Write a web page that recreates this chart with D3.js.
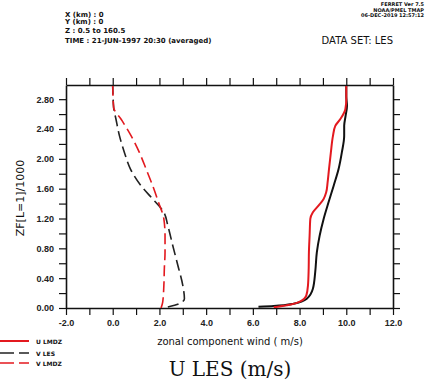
<!DOCTYPE html>
<html>
<head>
<meta charset="utf-8">
<script src="https://cdn.jsdelivr.net/npm/d3@7"></script>
<style>
  html, body { margin: 0; padding: 0; background: #fff; }
  svg { display: block; font-family: "DejaVu Sans", "Liberation Sans", sans-serif; }
  text { fill: #111; }
</style>
</head>
<body>
<svg id="chart" width="425" height="382"></svg>
<script>
// Mean profiles: height (ZF/1000) against wind component (m/s)
const uLesZ  = [0.018, 0.027, 0.058, 0.125, 0.258, 0.481, 0.749, 0.971, 1.194, 1.417, 1.640, 1.863, 2.086, 2.308, 2.442, 2.576, 2.709, 2.843, 2.977];
const uLesV  = [6.24, 6.89, 7.74, 8.31, 8.57, 8.67, 8.74, 8.86, 9.03, 9.24, 9.46, 9.67, 9.81, 9.91, 9.91, 9.97, 10.03, 10.00, 10.00];

const uLmdzZ = [0.009, 0.036, 0.089, 0.169, 0.303, 0.526, 0.749, 0.971, 1.194, 1.283, 1.373, 1.462, 1.551, 1.684, 1.863, 2.086, 2.308, 2.442, 2.531, 2.665, 2.799, 2.977];
const uLmdzV = [6.89, 7.46, 8.03, 8.29, 8.36, 8.39, 8.40, 8.43, 8.46, 8.57, 8.81, 9.03, 9.14, 9.20, 9.26, 9.34, 9.43, 9.53, 9.74, 9.96, 10.00, 10.00];

const vLesZ  = [0.013, 0.058, 0.125, 0.303, 0.570, 0.838, 1.105, 1.283, 1.462, 1.640, 1.863, 2.086, 2.308, 2.531, 2.687, 2.977];
const vLesV  = [2.36, 2.86, 3.07, 3.00, 2.79, 2.57, 2.36, 2.19, 1.71, 1.21, 0.76, 0.50, 0.29, 0.14, 0.04, 0.00];

const vLmdzZ = [0.000, 0.080, 0.303, 0.526, 0.749, 0.971, 1.194, 1.417, 1.640, 1.863, 2.086, 2.308, 2.531, 2.687, 2.977];
const vLmdzV = [2.07, 2.14, 2.19, 2.21, 2.24, 2.24, 2.19, 1.96, 1.71, 1.43, 1.14, 0.79, 0.36, 0.04, 0.00];

const xTicks = d3.range(-2, 12.001, 1);
const xLabelTicks = d3.range(-2, 12.001, 2);
const yTicks = d3.range(0, 2.801, 0.2);
const yLabelTicks = d3.range(0, 2.801, 0.4);

const headerLines = ["X (km) : 0", "Y (km) : 0", "Z : 0.5 to 160.5", "TIME : 21-JUN-1997 20:30 (averaged)"];
const stampLines = ["FERRET Ver 7.5", "NOAA/PMEL TMAP", "06-DEC-2019 12:57:12"];

const series = [
  { name: "U LES",  z: uLesZ,  v: uLesV,  color: "#111111", dash: null,   width: 2.0, legend: false },
  { name: "U LMDZ", z: uLmdzZ, v: uLmdzV, color: "#e3191f", dash: null,   width: 2.0, legend: true },
  { name: "V LES",  z: vLesZ,  v: vLesV,  color: "#222222", dash: "11,5", width: 1.6, legend: true },
  { name: "V LMDZ", z: vLmdzZ, v: vLmdzV, color: "#e3191f", dash: "11,5", width: 1.6, legend: true }
];

const svg = d3.select("#chart");
const plot = { left: 66, right: 393, top: 85, bottom: 308 };

const x = d3.scaleLinear().domain([-2, 12]).range([plot.left, plot.right]);
const y = d3.scaleLinear().domain([0, 2.99]).range([plot.bottom, plot.top]);

const fmtX = v => d3.format(".1f")(v).replace("\u2212", "-");
const fmtY = v => d3.format(".2f")(v);

function styleAxis(g) {
  g.select(".domain").attr("stroke", "#111").attr("stroke-width", 1.6);
  g.selectAll(".tick line").attr("stroke", "#111").attr("stroke-width", 1.2);
  g.selectAll(".tick text")
    .style("font-size", "9px").style("font-weight", "bold")
    .style("font-family", "'Liberation Sans', sans-serif").style("fill", "#222");
}

// bottom axis with labels every 2 m/s
svg.append("g").attr("transform", `translate(0,${plot.bottom})`)
  .call(d3.axisBottom(x).tickValues(xTicks).tickSizeInner(7).tickSizeOuter(0).tickPadding(5)
    .tickFormat(v => xLabelTicks.some(t => Math.abs(t - v) < 1e-6) ? fmtX(v) : ""))
  .call(styleAxis);

// top frame axis, ticks only
svg.append("g").attr("transform", `translate(0,${plot.top})`)
  .call(d3.axisTop(x).tickValues(xTicks).tickSizeInner(7).tickSizeOuter(0).tickFormat(""))
  .call(styleAxis);

// left axis with labels every 0.4
svg.append("g").attr("transform", `translate(${plot.left},0)`)
  .call(d3.axisLeft(y).tickValues(yTicks).tickSizeInner(7).tickSizeOuter(0).tickPadding(5)
    .tickFormat(v => yLabelTicks.some(t => Math.abs(t - v) < 1e-6) ? fmtY(v) : ""))
  .call(styleAxis);

// right frame axis, ticks only
svg.append("g").attr("transform", `translate(${plot.right},0)`)
  .call(d3.axisRight(y).tickValues(yTicks).tickSizeInner(7).tickSizeOuter(0).tickFormat(""))
  .call(styleAxis);

// profile lines
const line = d3.line().x(d => x(d[1])).y(d => y(d[0])).curve(d3.curveMonotoneY);
const clipId = "plotClip";
svg.append("clipPath").attr("id", clipId).append("rect")
  .attr("x", plot.left).attr("y", plot.top).attr("width", plot.right - plot.left).attr("height", plot.bottom - plot.top);

const lines = svg.append("g").attr("clip-path", `url(#${clipId})`);
[series[0], series[2], series[3], series[1]].forEach(s => {
  const pts = d3.zip(s.z, s.v).sort((a, b) => a[0] - b[0]);
  lines.append("path").datum(pts)
    .attr("d", line).attr("fill", "none")
    .attr("stroke", s.color).attr("stroke-width", s.width)
    .attr("stroke-dasharray", s.dash)
    .attr("stroke-linejoin", "round");
});

// axis titles
svg.append("text").attr("x", 230).attr("y", 345).attr("text-anchor", "middle")
  .style("font-size", "10px").text("zonal component wind ( m/s)");

svg.append("text").attr("transform", "translate(24,198) rotate(-90)").attr("text-anchor", "middle")
  .style("font-size", "11px").text("ZF[L=1]/1000");

svg.append("text").attr("x", 230).attr("y", 376).attr("text-anchor", "middle")
  .style("font-family", "'DejaVu Serif', 'Liberation Serif', serif")
  .style("font-size", "20px").text("U LES (m/s)");

// header block
svg.append("g").selectAll("text").data(headerLines).join("text")
  .attr("x", 65).attr("y", (d, i) => [17, 24, 33, 43][i])
  .style("font-size", "7px").style("font-weight", "bold").text(d => d);

svg.append("g").selectAll("text").data(stampLines).join("text")
  .attr("x", 424).attr("y", (d, i) => 6 + i * 5.5).attr("text-anchor", "end")
  .style("font-size", "5px").style("font-weight", "bold").text(d => d);

svg.append("text").attr("x", 393).attr("y", 44).attr("text-anchor", "end")
  .style("font-size", "10px").text("DATA SET: LES");

// legend
const legendItems = series.filter(s => s.legend);
const lg = svg.append("g");
legendItems.forEach((s, i) => {
  const ly = [341, 353, 363][i];
  lg.append("line").attr("x1", 0).attr("x2", 29).attr("y1", ly).attr("y2", ly)
    .attr("stroke", s.color).attr("stroke-width", s.dash ? 1.6 : 2)
    .attr("stroke-dasharray", s.dash ? "14,5" : null);
  lg.append("text").attr("x", 36).attr("y", ly + 2.5)
    .style("font-size", "6px").style("font-weight", "bold").text(s.name);
});
</script>
</body>
</html>
